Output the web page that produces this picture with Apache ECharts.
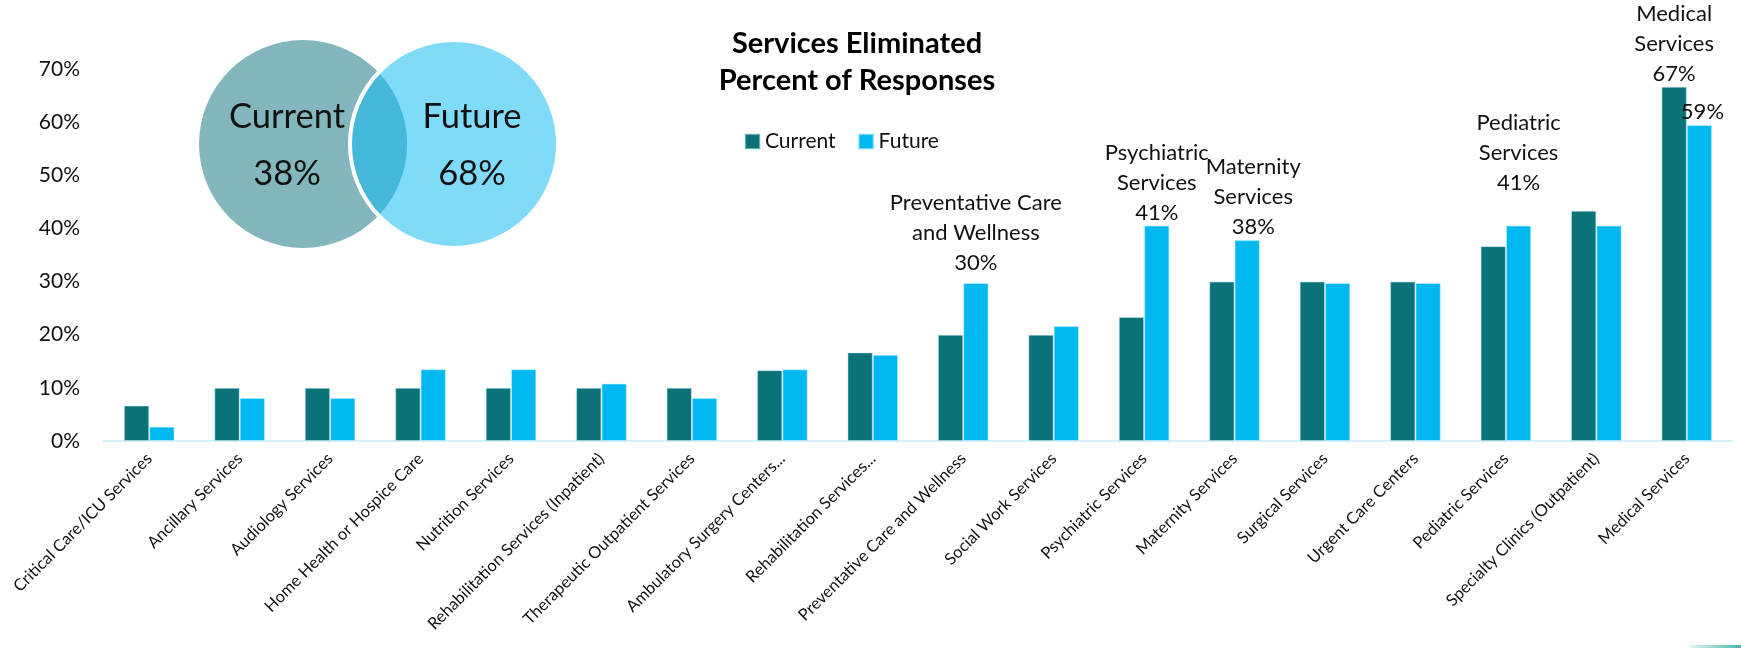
<!DOCTYPE html>
<html>
<head>
<meta charset="utf-8">
<script src="https://cdn.jsdelivr.net/npm/echarts@6/dist/echarts.min.js"></script>
<style>
html,body{margin:0;padding:0;background:#fff;}
#chart{width:1741px;height:648px;}
</style>
</head>
<body>
<div id="chart"></div>
<script>
const categories = [
  'Critical Care/ICU Services', 'Ancillary Services', 'Audiology Services',
  'Home Health or Hospice Care', 'Nutrition Services', 'Rehabilitation Services (Inpatient)',
  'Therapeutic Outpatient Services', 'Ambulatory Surgery Centers...', 'Rehabilitation Services...',
  'Preventative Care and Wellness', 'Social Work Services', 'Psychiatric Services',
  'Maternity Services', 'Surgical Services', 'Urgent Care Centers', 'Pediatric Services',
  'Specialty Clinics (Outpatient)', 'Medical Services'
];
const currentValues = [6.67, 10, 10, 10, 10, 10, 10, 13.33, 16.67, 20, 20, 23.33, 30, 30, 30, 36.67, 43.33, 66.67];
const futureValues  = [2.70, 8.11, 8.11, 13.51, 13.51, 10.81, 8.11, 13.51, 16.22, 29.73, 21.62, 40.54, 37.84, 29.73, 29.73, 40.54, 40.54, 59.46];
const yTicks = [0, 10, 20, 30, 40, 50, 60, 70];
const calloutCurrent = {17: 'Medical\nServices'};
const calloutFuture = {9: 'Preventative Care\nand Wellness', 11: 'Psychiatric\nServices', 12: 'Maternity\nServices', 15: 'Pediatric\nServices', 17: ''};
const vennSets = ['Current', 'Future'];
const vennValues = ['38%', '68%'];

const FONT = 'Lato, "Open Sans", sans-serif';
const C_CUR = '#0c727a';
const C_FUT = '#00b8f0';

function buildData(values, callouts) {
  return values.map((v, i) => {
    if (callouts[i] === undefined) return v;
    const name = callouts[i];
    return {
      value: v,
      label: {
        show: true,
        position: 'top',
        distance: -2,
        fontFamily: FONT,
        fontSize: 22,
        lineHeight: 30,
        color: '#111',
        align: 'center',
        formatter: (p) => (name ? name + '\n' : '') + Math.round(p.value) + '%'
      }
    };
  });
}

const futureData = buildData(futureValues, calloutFuture);
futureData[17].label.offset = [3, 0];
futureData[12].label.offset = [6, 0];
futureData[9].label.offset = [0, -7];
futureData[15].label.offset = [0, -30];

const chart = echarts.init(document.getElementById('chart'));

// Venn geometry (decoration)
const r = 104, cy = 144, cxL = 303, cxR = 454;
const half = Math.acos(((cxR - cxL) / 2) / r);
const lensPts = [];
const N = 60;
for (let k = 0; k <= N; k++) {
  const a = -half + (2 * half) * k / N;
  lensPts.push([cxL + r * Math.cos(a), cy + r * Math.sin(a)]);
}
for (let k = 0; k <= N; k++) {
  const a = Math.PI - half + (2 * half) * k / N;
  lensPts.push([cxR + r * Math.cos(a), cy + r * Math.sin(a)]);
}

chart.setOption({
  animation: false,
  backgroundColor: '#ffffff',
  grid: {left: 104, right: 9, top: 69, bottom: 207, containLabel: false},
  legend: {
    data: ['Current', 'Future'],
    left: 739, top: 126,
    itemWidth: 15, itemHeight: 15, itemGap: 22,
    icon: 'rect',
    textStyle: {fontFamily: FONT, fontSize: 21, color: '#111'}
  },
  xAxis: {
    type: 'category',
    data: categories,
    axisLine: {lineStyle: {color: '#d3f1fa', width: 2}},
    axisTick: {show: false},
    axisLabel: {rotate: 45, interval: 0, margin: 15, fontFamily: FONT, fontSize: 16.5, color: '#111'}
  },
  yAxis: {
    type: 'value',
    min: yTicks[0], max: yTicks[yTicks.length - 1], interval: 10,
    splitLine: {show: false},
    axisLine: {show: false},
    axisTick: {show: false},
    axisLabel: {formatter: '{value}%', fontFamily: FONT, fontSize: 21, color: '#111', margin: 24}
  },
  series: [
    {
      name: 'Current', type: 'bar', barGap: '0%', barCategoryGap: '44%',
      itemStyle: {color: C_CUR, borderColor: 'rgba(190,235,240,0.5)', borderWidth: 1},
      data: buildData(currentValues, calloutCurrent)
    },
    {
      name: 'Future', type: 'bar', barGap: '0%', barCategoryGap: '44%',
      itemStyle: {color: C_FUT, borderColor: 'rgba(200,240,255,0.6)', borderWidth: 1},
      data: futureData
    }
  ],
  graphic: [
    {type: 'circle', shape: {cx: cxL, cy: cy, r: r}, style: {fill: '#84b7bd'}, z: 1},
    {type: 'circle', shape: {cx: cxR, cy: cy, r: r}, style: {fill: '#80dbf8'}, z: 2},
    {type: 'polygon', shape: {points: lensPts}, style: {fill: '#44b8d8'}, z: 3},
    {type: 'circle', shape: {cx: cxR, cy: cy, r: r}, style: {fill: 'none', stroke: '#ffffff', lineWidth: 4}, z: 4},
    {type: 'text', z: 5, style: {x: 287, y: 117, text: vennSets[0], align: 'center', verticalAlign: 'middle', fontFamily: FONT, fontSize: 34.5, fill: '#111'}},
    {type: 'text', z: 5, style: {x: 287, y: 174, text: vennValues[0], align: 'center', verticalAlign: 'middle', fontFamily: FONT, fontSize: 34.5, fill: '#111'}},
    {type: 'text', z: 5, style: {x: 472, y: 117, text: vennSets[1], align: 'center', verticalAlign: 'middle', fontFamily: FONT, fontSize: 34.5, fill: '#111'}},
    {type: 'text', z: 5, style: {x: 472, y: 174, text: vennValues[1], align: 'center', verticalAlign: 'middle', fontFamily: FONT, fontSize: 34.5, fill: '#111'}},
    {type: 'text', z: 5, style: {x: 857, y: 44, text: 'Services Eliminated', align: 'center', verticalAlign: 'middle', fontFamily: FONT, fontWeight: 'bold', fontSize: 29, fill: '#000'}},
    {type: 'text', z: 5, style: {x: 857, y: 81, text: 'Percent of Responses', align: 'center', verticalAlign: 'middle', fontFamily: FONT, fontWeight: 'bold', fontSize: 29, fill: '#000'}},
    {type: 'rect', z: 5, shape: {x: 1690, y: 645, width: 51, height: 3},
     style: {fill: {type: 'linear', x: 0, y: 0, x2: 1, y2: 0, colorStops: [{offset: 0, color: '#e0f4f2'}, {offset: 1, color: '#4fb3aa'}]}}}
  ]
});
</script>
</body>
</html>
